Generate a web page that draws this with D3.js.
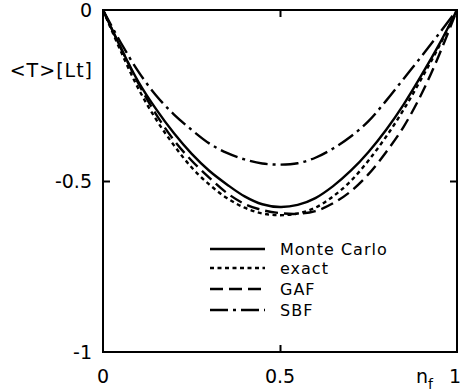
<!DOCTYPE html>
<html><head><meta charset="utf-8">
<script src="https://cdn.jsdelivr.net/npm/d3@7"></script>
<style>
html,body{margin:0;padding:0;background:#fff;}
svg{display:block;}
text{font-family:"DejaVu Sans",sans-serif;fill:#000;}
</style></head>
<body>
<svg id="chart" width="462" height="392"></svg>
<script>
const nf = [0,0.05,0.1,0.15,0.2,0.25,0.3,0.35,0.4,0.45,0.5,0.55,0.6,0.65,0.7,0.75,0.8,0.85,0.9,0.95,1];
const monteCarlo = [0,-0.11,-0.21,-0.29,-0.36,-0.42,-0.47,-0.51,-0.545,-0.568,-0.576,-0.57,-0.55,-0.515,-0.47,-0.415,-0.35,-0.275,-0.19,-0.10,0];
const exact = [0,-0.12,-0.23,-0.32,-0.395,-0.46,-0.51,-0.55,-0.578,-0.595,-0.6,-0.595,-0.578,-0.545,-0.5,-0.44,-0.37,-0.29,-0.2,-0.105,0];
const gaf = [0,-0.11,-0.215,-0.305,-0.38,-0.44,-0.49,-0.535,-0.567,-0.585,-0.594,-0.596,-0.588,-0.565,-0.53,-0.48,-0.415,-0.34,-0.245,-0.13,0];
const sbf = [0,-0.095,-0.18,-0.25,-0.305,-0.35,-0.39,-0.418,-0.437,-0.449,-0.452,-0.448,-0.432,-0.405,-0.37,-0.325,-0.265,-0.2,-0.135,-0.068,0];
const seriesNames = ["Monte Carlo","exact","GAF","SBF"];
const xTicks = [0,0.5,1];
const xTickLabels = ["0","0.5","1"];
const yTicks = [0,-0.5,-1];
const yTickLabels = ["0","-0.5","-1"];

const svg = d3.select("#chart");
const x = d3.scaleLinear().domain([0,1]).range([103,457]);
const y = d3.scaleLinear().domain([-1,0]).range([352,10]);

const dashes = ["", "4,3.5", "13,6", "18,5,3,5"];
const data = [monteCarlo, exact, gaf, sbf];

// frame
svg.append("rect").attr("x",x(0)).attr("y",y(0)).attr("width",x(1)-x(0)).attr("height",y(-1)-y(0))
  .attr("fill","none").attr("stroke","#000").attr("stroke-width",2);

// inward ticks on all sides
const tickLen = 7;
const axB = d3.axisBottom(x).tickValues([0.5]).tickSize(-tickLen).tickFormat("");
const axT = d3.axisTop(x).tickValues([0.5]).tickSize(-tickLen).tickFormat("");
const axL = d3.axisLeft(y).tickValues([-0.5]).tickSize(-tickLen).tickFormat("");
const axR = d3.axisRight(y).tickValues([-0.5]).tickSize(-tickLen).tickFormat("");
[[axB,`translate(0,${y(-1)})`],[axT,`translate(0,${y(0)})`],[axL,`translate(${x(0)},0)`],[axR,`translate(${x(1)},0)`]].forEach(([a,t])=>{
  const g = svg.append("g").attr("transform",t).call(a);
  g.select(".domain").remove();
  g.selectAll("line").attr("stroke","#000").attr("stroke-width",2);
});

// curves
const line = d3.line().x((d,i)=>x(nf[i])).y(d=>y(d)).curve(d3.curveCatmullRom.alpha(0.5));
data.forEach((s,k)=>{
  svg.append("path").datum(s).attr("d",line).attr("fill","none").attr("stroke","#000")
    .attr("stroke-width",2.4).attr("stroke-dasharray",dashes[k]||null);
});

// tick labels
svg.selectAll(".xl").data(xTicks).enter().append("text")
  .attr("x",(d,i)=> i===2 ? x(d)-2 : x(d)).attr("y",383).attr("text-anchor","middle")
  .attr("font-size",19).text((d,i)=>xTickLabels[i]);
svg.selectAll(".yl").data(yTicks).enter().append("text")
  .attr("x",92).attr("y",d=>y(d)+7).attr("text-anchor","end")
  .attr("font-size",19).text((d,i)=>yTickLabels[i]);

// axis titles
svg.append("text").attr("x",93).attr("y",77).attr("text-anchor","end").attr("font-size",19)
  .attr("letter-spacing",1).text("<T>[Lt]");
const nt = svg.append("text").attr("x",416).attr("y",383).attr("font-size",19);
nt.append("tspan").text("n");
nt.append("tspan").attr("dy",6).attr("font-size",14).text("f");

// legend
const legY = [249,268,289,310];
seriesNames.forEach((nm,k)=>{
  svg.append("line").attr("x1",210).attr("x2",265).attr("y1",legY[k]).attr("y2",legY[k])
    .attr("stroke","#000").attr("stroke-width",2.4).attr("stroke-dasharray",dashes[k]||null);
  svg.append("text").attr("x",280).attr("y",legY[k]+6).attr("font-size",16)
    .attr("letter-spacing",1).text(nm);
});
</script>
</body></html>
